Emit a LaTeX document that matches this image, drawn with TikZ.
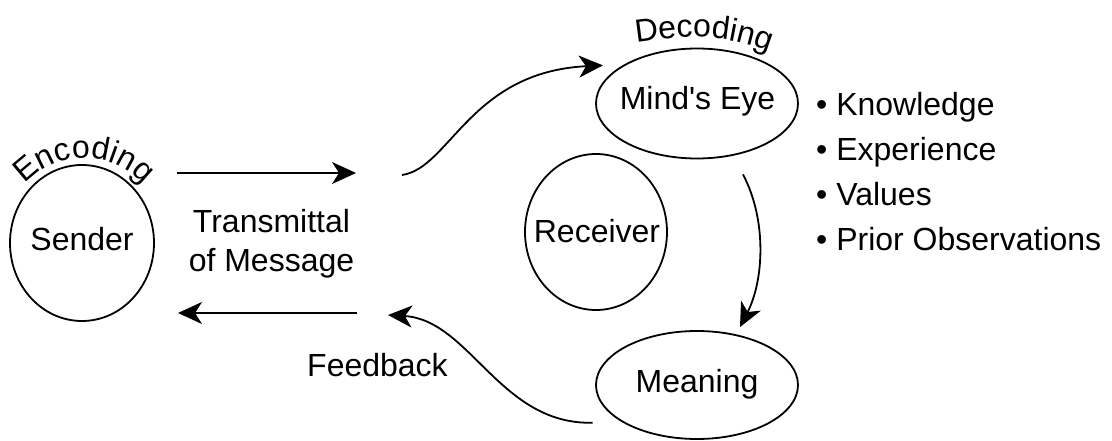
\documentclass[tikz,border=0pt]{standalone}
\usepackage{fontspec}
\setmainfont{Liberation Sans}
\usetikzlibrary{arrows.meta,shapes.geometric,decorations.text}
\newcommand\bigfont{\fontsize{32}{37}\selectfont}
\begin{document}
\begin{tikzpicture}[x=1pt,y=-1pt,
  ring/.style={draw,ellipse,line width=1.8pt,inner sep=0pt},
  lbl/.style={font=\bigfont,inner sep=0pt,anchor=base},
  item/.style={font=\bigfont,inner sep=0pt,anchor=base west},
  arr/.style={line width=1.8pt,-{Stealth[length=24pt,width=22pt,inset=7pt]}},
  arctext/.style={decorate,decoration={text along path,text align=center,text={|\bigfont|#1}}}
]
\useasboundingbox (0,0) rectangle (1112,441);

% ellipses
\node[ring,minimum width=144pt,minimum height=156pt] (sender) at (82,243) {};
\node[ring,minimum width=142pt,minimum height=156pt] (receiver) at (596,232) {};
\node[ring,minimum width=202pt,minimum height=110pt] (mind) at (697,103.5) {};
\node[ring,minimum width=202pt,minimum height=108pt] (meaning) at (697,385) {};

% texts
\node[lbl] (sendertxt) at (82,250) {Sender};
\node[lbl] (receivertxt) at (597,242) {Receiver};
\node[lbl] (mindtxt) at (697.5,110) {Mind\textquotesingle s Eye};
\node[lbl] (meaningtxt) at (697,392) {Meaning};
\node[lbl] (trans1) at (271.5,233) {Transmittal};
\node[lbl] (trans2) at (271.5,271) {of Message};
\node[lbl] (feedback) at (377.5,376) {Feedback};

% list
\node[item] (k1) at (816,116) {• Knowledge};
\node[item] (k2) at (816,161) {• Experience};
\node[item] (k3) at (816,205.5) {• Values};
\node[item] (k4) at (816,250) {• Prior Observations};

% curved labels
\path[arctext=Encoding] (84,238) ++(-150:80) arc[start angle=-150,end angle=-30,radius=80];
\path[arctext=Decoding] (625,44) .. controls (680,36) and (720,30) .. (780,56);

% straight arrows
\coordinate (ts) at (177,173);
\coordinate (te) at (356,173);
\draw[arr] (ts) -- (te);
\coordinate (bs) at (357,313);
\coordinate (be) at (178,313);
\draw[arr] (bs) -- (be);

% curved arrows
\coordinate (us) at (402,175);
\draw[arr] (us) .. controls (450,168) and (470,72) .. ([xshift=-12pt,yshift=5pt]mind.158);
\draw[arr] ([xshift=46pt,yshift=-15pt]mind.south) .. controls (767,220) and (764,280) .. ([xshift=43pt,yshift=3pt]meaning.north);
\coordinate (fe) at (388,315);
\draw[arr] ([xshift=-20pt,yshift=-7pt]meaning.200) .. controls (500,425) and (470,320) .. (fe);
\end{tikzpicture}
\end{document}
